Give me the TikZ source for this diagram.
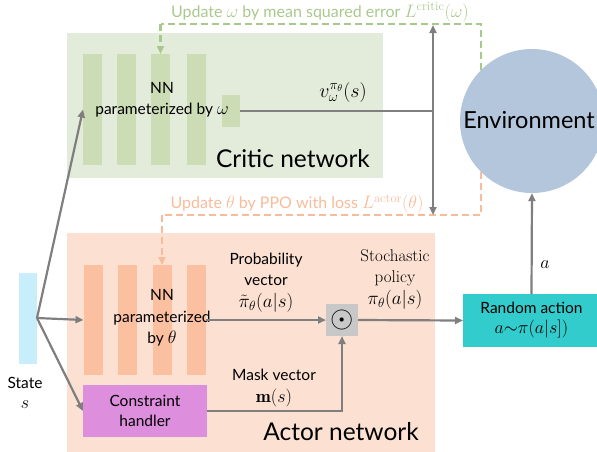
\RequirePackage{fix-cm}
\documentclass[tikz,border=0pt]{standalone}
\usepackage{fontspec}
\setsansfont{Lato}
\usetikzlibrary{arrows.meta}
\newcommand\mth[2][20]{{\fontsize{#1}{20.5}\selectfont$#2$}}
\definecolor{critbg}{HTML}{E3EBDA}
\definecolor{critbar}{HTML}{CCDCB5}
\definecolor{gline}{HTML}{A9C98C}
\definecolor{actbg}{HTML}{FCE0D2}
\definecolor{actbar}{HTML}{FBC0A0}
\definecolor{oline}{HTML}{F9BC9A}
\definecolor{chfill}{HTML}{DD8EDD}
\definecolor{teal}{HTML}{33CCCC}
\definecolor{statec}{HTML}{C9EEFB}
\definecolor{envc}{HTML}{B4C6DB}
\definecolor{odotc}{HTML}{C8C8C8}
\definecolor{arr}{HTML}{7F7F80}
\begin{document}
\begin{tikzpicture}[x=1pt,y=-1pt,
  font=\sffamily,
  box/.style={draw=none,inner sep=0pt,outer sep=0pt},
  cbar/.style={box,fill=critbar,minimum width=19pt,minimum height=111pt},
  abar/.style={box,fill=actbar,minimum width=19pt,minimum height=110pt},
  txt/.style={inner sep=0pt,align=center,font=\sffamily\fontsize{15.5}{20.5}\selectfont},
  big/.style={inner sep=0pt,font=\sffamily\fontsize{24.5}{28}\selectfont},
  upd/.style={inner sep=0pt,font=\sffamily\fontsize{16}{18}\selectfont},
  conn/.style={draw=arr,line width=2.2pt,-{Triangle[length=8pt,width=7pt]}},
  plain/.style={draw=arr,line width=2.2pt},
  gdash/.style={draw=gline,line width=2.2pt,dash pattern=on 7pt off 4pt},
  odash/.style={draw=oline,line width=2.2pt,dash pattern=on 7pt off 4pt}
]
\useasboundingbox (0,0) rectangle (597,451);
% critic network background
\node[box,fill=critbg,minimum width=316pt,minimum height=145pt] (critic) at (225,105.5) {};
\node[cbar] (c1) at (92.5,109.5) {};
\node[cbar] (c2) at (126.5,109.5) {};
\node[cbar] (c3) at (160.5,109.5) {};
\node[cbar] (c4) at (196.5,109.5) {};
\node[box,fill=critbar,minimum width=18pt,minimum height=32pt] (cout) at (231,111) {};
\node[txt] (cnn) at (162,100) {NN\\parameterized by \mth[18]{\omega}};
\node[big] (ctitle) at (293,159) {Critic network};
% actor network background
\node[box,fill=actbg,minimum width=368pt,minimum height=220pt] (actor) at (251,343) {};
\node[abar] (a1) at (93,320) {};
\node[abar] (a2) at (127,320) {};
\node[abar] (a3) at (162,320) {};
\node[abar] (a4) at (196.5,320) {};
\node[txt,font=\sffamily\fontsize{15.5}{21.5}\selectfont] (ann) at (162,318) {NN\\parameterized\\by \mth[18]{\theta}};
\node[box,fill=chfill,minimum width=124pt,minimum height=52pt,align=center,
      font=\sffamily\fontsize{15.5}{20}\selectfont] (ch) at (145,411) {Constraint\\handler};
\node[big] (atitle) at (341,432) {Actor network};
\node[box,fill=odotc,minimum width=32pt,minimum height=32pt,
      font=\fontsize{30}{30}\selectfont] (odot) at (342,320) {$\odot$};
% state
\node[box,fill=statec,minimum width=18pt,minimum height=91pt] (state) at (28,318.5) {};
\coordinate (br) at (37,318);
\node[txt] (slab) at (25,393) {State\\\mth[18]{s}};
% environment
\node[circle,fill=envc,draw=none,minimum size=144pt,inner sep=0pt] (env) at (532,121) {};
\node[inner sep=0pt,font=\sffamily\fontsize{23.5}{26}\selectfont] (envt) at (529,120) {Environment};
% random action
\node[box,fill=teal,minimum width=137pt,minimum height=53pt,align=center,
      font=\sffamily\fontsize{15.5}{20}\selectfont] (ra) at (531.5,320.5) {Random action\\\mth[18]{a{\sim}\pi(a|s])}};
% labels
\node[txt] (vlab) at (343,92) {\mth{v_\omega^{\pi_\theta}(s)}};
\node[txt] (pv) at (266,283) {Probability\\vector\\[2pt]\mth[19]{\tilde{\pi}_\theta(a|s)}};
\node[txt,font=\rmfamily\fontsize{17}{20.5}\selectfont] (sp) at (395,279.5) {Stochastic\\policy\\[2pt]\mth[19]{\pi_\theta(a|s)}};
\node[txt] (mv) at (274,388) {Mask vector\\[1pt]\mth[18]{\mathbf{m}(s)}};
\node[txt] (alab) at (545,265) {\mth[18]{a}};
\node[upd,text=gline] (gup) at (320,12) {Update \mth[18]{\omega} by mean squared error \mth[18]{L^{\mathrm{critic}}(\omega)}};
\node[upd,text=oline] (oup) at (297,204) {Update \mth[18]{\theta} by PPO with loss \mth[18]{L^{\mathrm{actor}}(\theta)}};
% connectors
\coordinate (vj) at (433,111);
\coordinate (vt) at (433,25);
\coordinate (vb) at (433,215);
\coordinate (gtop) at (160.5,24);
\coordinate (obot) at (162,215);
\draw[gdash] (env.135) |- (gtop);
\draw[gdash,-{Triangle[length=8pt,width=7pt]}] (gtop) -- (c3.north);
\draw[odash] (env.225) |- (obot);
\draw[odash,-{Triangle[length=8pt,width=7pt]}] (obot) -- (a3.north);
\draw[plain] (cout.east) -- (vj);
\draw[conn,{Triangle[length=8pt,width=7pt]}-{Triangle[length=8pt,width=7pt]}] (vt) -- (vb);
\draw[conn] (br) -- (c1.west);
\draw[conn] (br) -- (a1.west);
\draw[conn] (br) -- (ch.west);
\draw[conn] (a4.east) -- (odot.west);
\draw[conn] (ch.east) -| (odot.south);
\draw[conn] (odot.east) -- (ra.west);
\draw[conn] (ra.north) -- (env.south);
\end{tikzpicture}
\end{document}
